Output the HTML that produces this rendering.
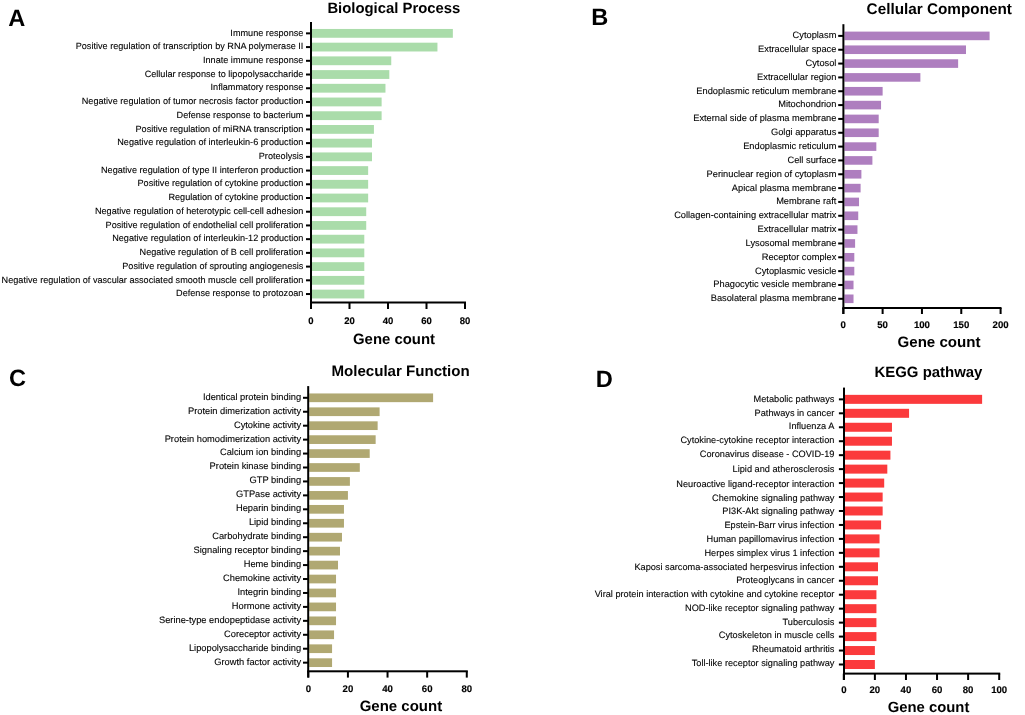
<!DOCTYPE html>
<html><head><meta charset="utf-8"><title>GO and KEGG enrichment</title>
<style>
html,body{margin:0;padding:0;background:#fff;}
body{width:1025px;height:715px;overflow:hidden;}
svg{display:block;font-family:"Liberation Sans", sans-serif;will-change:transform;text-rendering:geometricPrecision;}
</style></head>
<body>
<svg width="1025" height="715" viewBox="0 0 1025 715">
<rect width="1025" height="715" fill="#fff"/>
<g>
<text x="8.2" y="26.4" font-size="23.6" font-weight="bold" fill="#000">A</text>
<text x="327.4" y="13.2" font-size="14.87" font-weight="bold" fill="#000">Biological Process</text>
<rect x="312.00" y="28.96" width="140.85" height="8.80" fill="#aadcaa"/>
<rect x="306.00" y="32.36" width="5.00" height="2" fill="#000"/>
<text x="303.4" y="35.56" font-size="9.15" text-anchor="end" fill="#000" stroke="#000" stroke-width="0.1">Immune response</text>
<rect x="312.00" y="42.68" width="125.45" height="8.80" fill="#aadcaa"/>
<rect x="306.00" y="46.08" width="5.00" height="2" fill="#000"/>
<text x="303.4" y="49.28" font-size="9.15" text-anchor="end" fill="#000" stroke="#000" stroke-width="0.1">Positive regulation of transcription by RNA polymerase II</text>
<rect x="312.00" y="56.40" width="79.25" height="8.80" fill="#aadcaa"/>
<rect x="306.00" y="59.80" width="5.00" height="2" fill="#000"/>
<text x="303.4" y="63.00" font-size="9.15" text-anchor="end" fill="#000" stroke="#000" stroke-width="0.1">Innate immune response</text>
<rect x="312.00" y="70.12" width="77.32" height="8.80" fill="#aadcaa"/>
<rect x="306.00" y="73.52" width="5.00" height="2" fill="#000"/>
<text x="303.4" y="76.72" font-size="9.15" text-anchor="end" fill="#000" stroke="#000" stroke-width="0.1">Cellular response to lipopolysaccharide</text>
<rect x="312.00" y="83.84" width="73.47" height="8.80" fill="#aadcaa"/>
<rect x="306.00" y="87.24" width="5.00" height="2" fill="#000"/>
<text x="303.4" y="90.44" font-size="9.15" text-anchor="end" fill="#000" stroke="#000" stroke-width="0.1">Inflammatory response</text>
<rect x="312.00" y="97.56" width="69.62" height="8.80" fill="#aadcaa"/>
<rect x="306.00" y="100.96" width="5.00" height="2" fill="#000"/>
<text x="303.4" y="104.16" font-size="9.15" text-anchor="end" fill="#000" stroke="#000" stroke-width="0.1">Negative regulation of tumor necrosis factor production</text>
<rect x="312.00" y="111.28" width="69.62" height="8.80" fill="#aadcaa"/>
<rect x="306.00" y="114.68" width="5.00" height="2" fill="#000"/>
<text x="303.4" y="117.88" font-size="9.15" text-anchor="end" fill="#000" stroke="#000" stroke-width="0.1">Defense response to bacterium</text>
<rect x="312.00" y="125.00" width="61.92" height="8.80" fill="#aadcaa"/>
<rect x="306.00" y="128.40" width="5.00" height="2" fill="#000"/>
<text x="303.4" y="131.60" font-size="9.15" text-anchor="end" fill="#000" stroke="#000" stroke-width="0.1">Positive regulation of miRNA transcription</text>
<rect x="312.00" y="138.72" width="60.00" height="8.80" fill="#aadcaa"/>
<rect x="306.00" y="142.12" width="5.00" height="2" fill="#000"/>
<text x="303.4" y="145.32" font-size="9.15" text-anchor="end" fill="#000" stroke="#000" stroke-width="0.1">Negative regulation of interleukin-6 production</text>
<rect x="312.00" y="152.44" width="60.00" height="8.80" fill="#aadcaa"/>
<rect x="306.00" y="155.84" width="5.00" height="2" fill="#000"/>
<text x="303.4" y="159.04" font-size="9.15" text-anchor="end" fill="#000" stroke="#000" stroke-width="0.1">Proteolysis</text>
<rect x="312.00" y="166.16" width="56.15" height="8.80" fill="#aadcaa"/>
<rect x="306.00" y="169.56" width="5.00" height="2" fill="#000"/>
<text x="303.4" y="172.76" font-size="9.15" text-anchor="end" fill="#000" stroke="#000" stroke-width="0.1">Negative regulation of type II interferon production</text>
<rect x="312.00" y="179.88" width="56.15" height="8.80" fill="#aadcaa"/>
<rect x="306.00" y="183.28" width="5.00" height="2" fill="#000"/>
<text x="303.4" y="186.48" font-size="9.15" text-anchor="end" fill="#000" stroke="#000" stroke-width="0.1">Positive regulation of cytokine production</text>
<rect x="312.00" y="193.60" width="56.15" height="8.80" fill="#aadcaa"/>
<rect x="306.00" y="197.00" width="5.00" height="2" fill="#000"/>
<text x="303.4" y="200.20" font-size="9.15" text-anchor="end" fill="#000" stroke="#000" stroke-width="0.1">Regulation of cytokine production</text>
<rect x="312.00" y="207.32" width="54.22" height="8.80" fill="#aadcaa"/>
<rect x="306.00" y="210.72" width="5.00" height="2" fill="#000"/>
<text x="303.4" y="213.92" font-size="9.15" text-anchor="end" fill="#000" stroke="#000" stroke-width="0.1">Negative regulation of heterotypic cell-cell adhesion</text>
<rect x="312.00" y="221.04" width="54.22" height="8.80" fill="#aadcaa"/>
<rect x="306.00" y="224.44" width="5.00" height="2" fill="#000"/>
<text x="303.4" y="227.64" font-size="9.15" text-anchor="end" fill="#000" stroke="#000" stroke-width="0.1">Positive regulation of endothelial cell proliferation</text>
<rect x="312.00" y="234.76" width="52.30" height="8.80" fill="#aadcaa"/>
<rect x="306.00" y="238.16" width="5.00" height="2" fill="#000"/>
<text x="303.4" y="241.36" font-size="9.15" text-anchor="end" fill="#000" stroke="#000" stroke-width="0.1">Negative regulation of interleukin-12 production</text>
<rect x="312.00" y="248.48" width="52.30" height="8.80" fill="#aadcaa"/>
<rect x="306.00" y="251.88" width="5.00" height="2" fill="#000"/>
<text x="303.4" y="255.08" font-size="9.15" text-anchor="end" fill="#000" stroke="#000" stroke-width="0.1">Negative regulation of B cell proliferation</text>
<rect x="312.00" y="262.20" width="52.30" height="8.80" fill="#aadcaa"/>
<rect x="306.00" y="265.60" width="5.00" height="2" fill="#000"/>
<text x="303.4" y="268.80" font-size="9.15" text-anchor="end" fill="#000" stroke="#000" stroke-width="0.1">Positive regulation of sprouting angiogenesis</text>
<rect x="312.00" y="275.92" width="52.30" height="8.80" fill="#aadcaa"/>
<rect x="306.00" y="279.32" width="5.00" height="2" fill="#000"/>
<text x="303.4" y="282.52" font-size="9.15" text-anchor="end" fill="#000" stroke="#000" stroke-width="0.1">Negative regulation of vascular associated smooth muscle cell proliferation</text>
<rect x="312.00" y="289.64" width="52.30" height="8.80" fill="#aadcaa"/>
<rect x="306.00" y="293.04" width="5.00" height="2" fill="#000"/>
<text x="303.4" y="296.24" font-size="9.15" text-anchor="end" fill="#000" stroke="#000" stroke-width="0.1">Defense response to protozoan</text>
<rect x="310.00" y="22.00" width="2.0" height="287.00" fill="#000"/>
<rect x="310.00" y="301.50" width="156.00" height="2.0" fill="#000"/>
<rect x="310.00" y="302.50" width="2" height="6.50" fill="#000"/>
<text x="311.00" y="324.3" font-size="9.5" font-weight="bold" text-anchor="middle" fill="#000" stroke="#000" stroke-width="0.15">0</text>
<rect x="348.50" y="302.50" width="2" height="6.50" fill="#000"/>
<text x="349.50" y="324.3" font-size="9.5" font-weight="bold" text-anchor="middle" fill="#000" stroke="#000" stroke-width="0.15">20</text>
<rect x="387.00" y="302.50" width="2" height="6.50" fill="#000"/>
<text x="388.00" y="324.3" font-size="9.5" font-weight="bold" text-anchor="middle" fill="#000" stroke="#000" stroke-width="0.15">40</text>
<rect x="425.50" y="302.50" width="2" height="6.50" fill="#000"/>
<text x="426.50" y="324.3" font-size="9.5" font-weight="bold" text-anchor="middle" fill="#000" stroke="#000" stroke-width="0.15">60</text>
<rect x="464.00" y="302.50" width="2" height="6.50" fill="#000"/>
<text x="465.00" y="324.3" font-size="9.5" font-weight="bold" text-anchor="middle" fill="#000" stroke="#000" stroke-width="0.15">80</text>
<text x="353.0" y="343.6" font-size="14.92" font-weight="bold" fill="#000">Gene count</text>
</g>
<g>
<text x="591.2" y="25.4" font-size="23.6" font-weight="bold" fill="#000">B</text>
<text x="866.6" y="14.2" font-size="15.3" font-weight="bold" fill="#000">Cellular Component</text>
<rect x="844.40" y="31.60" width="145.19" height="8.60" fill="#ae7ebf"/>
<rect x="838.20" y="34.90" width="5.20" height="2" fill="#000"/>
<text x="836.4" y="38.30" font-size="9.28" text-anchor="end" fill="#000" stroke="#000" stroke-width="0.1">Cytoplasm</text>
<rect x="844.40" y="45.44" width="121.59" height="8.60" fill="#ae7ebf"/>
<rect x="838.20" y="48.74" width="5.20" height="2" fill="#000"/>
<text x="836.4" y="52.14" font-size="9.28" text-anchor="end" fill="#000" stroke="#000" stroke-width="0.1">Extracellular space</text>
<rect x="844.40" y="59.27" width="113.73" height="8.60" fill="#ae7ebf"/>
<rect x="838.20" y="62.57" width="5.20" height="2" fill="#000"/>
<text x="836.4" y="65.97" font-size="9.28" text-anchor="end" fill="#000" stroke="#000" stroke-width="0.1">Cytosol</text>
<rect x="844.40" y="73.11" width="75.98" height="8.60" fill="#ae7ebf"/>
<rect x="838.20" y="76.41" width="5.20" height="2" fill="#000"/>
<text x="836.4" y="79.81" font-size="9.28" text-anchor="end" fill="#000" stroke="#000" stroke-width="0.1">Extracellular region</text>
<rect x="844.40" y="86.95" width="38.23" height="8.60" fill="#ae7ebf"/>
<rect x="838.20" y="90.25" width="5.20" height="2" fill="#000"/>
<text x="836.4" y="93.65" font-size="9.28" text-anchor="end" fill="#000" stroke="#000" stroke-width="0.1">Endoplasmic reticulum membrane</text>
<rect x="844.40" y="100.79" width="36.65" height="8.60" fill="#ae7ebf"/>
<rect x="838.20" y="104.09" width="5.20" height="2" fill="#000"/>
<text x="836.4" y="107.49" font-size="9.28" text-anchor="end" fill="#000" stroke="#000" stroke-width="0.1">Mitochondrion</text>
<rect x="844.40" y="114.62" width="34.29" height="8.60" fill="#ae7ebf"/>
<rect x="838.20" y="117.92" width="5.20" height="2" fill="#000"/>
<text x="836.4" y="121.32" font-size="9.28" text-anchor="end" fill="#000" stroke="#000" stroke-width="0.1">External side of plasma membrane</text>
<rect x="844.40" y="128.46" width="34.29" height="8.60" fill="#ae7ebf"/>
<rect x="838.20" y="131.76" width="5.20" height="2" fill="#000"/>
<text x="836.4" y="135.16" font-size="9.28" text-anchor="end" fill="#000" stroke="#000" stroke-width="0.1">Golgi apparatus</text>
<rect x="844.40" y="142.30" width="31.93" height="8.60" fill="#ae7ebf"/>
<rect x="838.20" y="145.60" width="5.20" height="2" fill="#000"/>
<text x="836.4" y="149.00" font-size="9.28" text-anchor="end" fill="#000" stroke="#000" stroke-width="0.1">Endoplasmic reticulum</text>
<rect x="844.40" y="156.13" width="28.00" height="8.60" fill="#ae7ebf"/>
<rect x="838.20" y="159.43" width="5.20" height="2" fill="#000"/>
<text x="836.4" y="162.83" font-size="9.28" text-anchor="end" fill="#000" stroke="#000" stroke-width="0.1">Cell surface</text>
<rect x="844.40" y="169.97" width="16.99" height="8.60" fill="#ae7ebf"/>
<rect x="838.20" y="173.27" width="5.20" height="2" fill="#000"/>
<text x="836.4" y="176.67" font-size="9.28" text-anchor="end" fill="#000" stroke="#000" stroke-width="0.1">Perinuclear region of cytoplasm</text>
<rect x="844.40" y="183.81" width="16.20" height="8.60" fill="#ae7ebf"/>
<rect x="838.20" y="187.11" width="5.20" height="2" fill="#000"/>
<text x="836.4" y="190.51" font-size="9.28" text-anchor="end" fill="#000" stroke="#000" stroke-width="0.1">Apical plasma membrane</text>
<rect x="844.40" y="197.64" width="14.63" height="8.60" fill="#ae7ebf"/>
<rect x="838.20" y="200.94" width="5.20" height="2" fill="#000"/>
<text x="836.4" y="204.34" font-size="9.28" text-anchor="end" fill="#000" stroke="#000" stroke-width="0.1">Membrane raft</text>
<rect x="844.40" y="211.48" width="13.84" height="8.60" fill="#ae7ebf"/>
<rect x="838.20" y="214.78" width="5.20" height="2" fill="#000"/>
<text x="836.4" y="218.18" font-size="9.28" text-anchor="end" fill="#000" stroke="#000" stroke-width="0.1">Collagen-containing extracellular matrix</text>
<rect x="844.40" y="225.32" width="13.06" height="8.60" fill="#ae7ebf"/>
<rect x="838.20" y="228.62" width="5.20" height="2" fill="#000"/>
<text x="836.4" y="232.02" font-size="9.28" text-anchor="end" fill="#000" stroke="#000" stroke-width="0.1">Extracellular matrix</text>
<rect x="844.40" y="239.16" width="10.70" height="8.60" fill="#ae7ebf"/>
<rect x="838.20" y="242.46" width="5.20" height="2" fill="#000"/>
<text x="836.4" y="245.86" font-size="9.28" text-anchor="end" fill="#000" stroke="#000" stroke-width="0.1">Lysosomal membrane</text>
<rect x="844.40" y="252.99" width="9.91" height="8.60" fill="#ae7ebf"/>
<rect x="838.20" y="256.29" width="5.20" height="2" fill="#000"/>
<text x="836.4" y="259.69" font-size="9.28" text-anchor="end" fill="#000" stroke="#000" stroke-width="0.1">Receptor complex</text>
<rect x="844.40" y="266.83" width="9.91" height="8.60" fill="#ae7ebf"/>
<rect x="838.20" y="270.13" width="5.20" height="2" fill="#000"/>
<text x="836.4" y="273.53" font-size="9.28" text-anchor="end" fill="#000" stroke="#000" stroke-width="0.1">Cytoplasmic vesicle</text>
<rect x="844.40" y="280.67" width="9.12" height="8.60" fill="#ae7ebf"/>
<rect x="838.20" y="283.97" width="5.20" height="2" fill="#000"/>
<text x="836.4" y="287.37" font-size="9.28" text-anchor="end" fill="#000" stroke="#000" stroke-width="0.1">Phagocytic vesicle membrane</text>
<rect x="844.40" y="294.50" width="9.12" height="8.60" fill="#ae7ebf"/>
<rect x="838.20" y="297.80" width="5.20" height="2" fill="#000"/>
<text x="836.4" y="301.20" font-size="9.28" text-anchor="end" fill="#000" stroke="#000" stroke-width="0.1">Basolateral plasma membrane</text>
<rect x="842.40" y="24.20" width="2.0" height="289.80" fill="#000"/>
<rect x="842.40" y="307.00" width="159.10" height="2.0" fill="#000"/>
<rect x="842.30" y="308.00" width="2" height="6.00" fill="#000"/>
<text x="843.30" y="327.8" font-size="9.65" font-weight="bold" text-anchor="middle" fill="#000" stroke="#000" stroke-width="0.15">0</text>
<rect x="881.62" y="308.00" width="2" height="6.00" fill="#000"/>
<text x="882.62" y="327.8" font-size="9.65" font-weight="bold" text-anchor="middle" fill="#000" stroke="#000" stroke-width="0.15">50</text>
<rect x="920.95" y="308.00" width="2" height="6.00" fill="#000"/>
<text x="921.95" y="327.8" font-size="9.65" font-weight="bold" text-anchor="middle" fill="#000" stroke="#000" stroke-width="0.15">100</text>
<rect x="960.27" y="308.00" width="2" height="6.00" fill="#000"/>
<text x="961.27" y="327.8" font-size="9.65" font-weight="bold" text-anchor="middle" fill="#000" stroke="#000" stroke-width="0.15">150</text>
<rect x="999.60" y="308.00" width="2" height="6.00" fill="#000"/>
<text x="1000.60" y="327.8" font-size="9.65" font-weight="bold" text-anchor="middle" fill="#000" stroke="#000" stroke-width="0.15">200</text>
<text x="897.5" y="346.9" font-size="15.1" font-weight="bold" fill="#000">Gene count</text>
</g>
<g>
<text x="9.0" y="386.2" font-size="23.6" font-weight="bold" fill="#000">C</text>
<text x="331.4" y="376.0" font-size="15.1" font-weight="bold" fill="#000">Molecular Function</text>
<rect x="309.20" y="393.45" width="123.90" height="8.70" fill="#b0a872"/>
<rect x="303.00" y="396.80" width="5.20" height="2" fill="#000"/>
<text x="301.1" y="399.70" font-size="9.3" text-anchor="end" fill="#000" stroke="#000" stroke-width="0.1">Identical protein binding</text>
<rect x="309.20" y="407.39" width="70.42" height="8.70" fill="#b0a872"/>
<rect x="303.00" y="410.74" width="5.20" height="2" fill="#000"/>
<text x="301.1" y="413.64" font-size="9.3" text-anchor="end" fill="#000" stroke="#000" stroke-width="0.1">Protein dimerization activity</text>
<rect x="309.20" y="421.33" width="68.44" height="8.70" fill="#b0a872"/>
<rect x="303.00" y="424.68" width="5.20" height="2" fill="#000"/>
<text x="301.1" y="427.58" font-size="9.3" text-anchor="end" fill="#000" stroke="#000" stroke-width="0.1">Cytokine activity</text>
<rect x="309.20" y="435.27" width="66.45" height="8.70" fill="#b0a872"/>
<rect x="303.00" y="438.62" width="5.20" height="2" fill="#000"/>
<text x="301.1" y="441.52" font-size="9.3" text-anchor="end" fill="#000" stroke="#000" stroke-width="0.1">Protein homodimerization activity</text>
<rect x="309.20" y="449.21" width="60.51" height="8.70" fill="#b0a872"/>
<rect x="303.00" y="452.56" width="5.20" height="2" fill="#000"/>
<text x="301.1" y="455.46" font-size="9.3" text-anchor="end" fill="#000" stroke="#000" stroke-width="0.1">Calcium ion binding</text>
<rect x="309.20" y="463.15" width="50.61" height="8.70" fill="#b0a872"/>
<rect x="303.00" y="466.50" width="5.20" height="2" fill="#000"/>
<text x="301.1" y="469.40" font-size="9.3" text-anchor="end" fill="#000" stroke="#000" stroke-width="0.1">Protein kinase binding</text>
<rect x="309.20" y="477.09" width="40.70" height="8.70" fill="#b0a872"/>
<rect x="303.00" y="480.44" width="5.20" height="2" fill="#000"/>
<text x="301.1" y="483.34" font-size="9.3" text-anchor="end" fill="#000" stroke="#000" stroke-width="0.1">GTP binding</text>
<rect x="309.20" y="491.03" width="38.72" height="8.70" fill="#b0a872"/>
<rect x="303.00" y="494.38" width="5.20" height="2" fill="#000"/>
<text x="301.1" y="497.28" font-size="9.3" text-anchor="end" fill="#000" stroke="#000" stroke-width="0.1">GTPase activity</text>
<rect x="309.20" y="504.97" width="34.76" height="8.70" fill="#b0a872"/>
<rect x="303.00" y="508.32" width="5.20" height="2" fill="#000"/>
<text x="301.1" y="511.22" font-size="9.3" text-anchor="end" fill="#000" stroke="#000" stroke-width="0.1">Heparin binding</text>
<rect x="309.20" y="518.91" width="34.76" height="8.70" fill="#b0a872"/>
<rect x="303.00" y="522.26" width="5.20" height="2" fill="#000"/>
<text x="301.1" y="525.16" font-size="9.3" text-anchor="end" fill="#000" stroke="#000" stroke-width="0.1">Lipid binding</text>
<rect x="309.20" y="532.85" width="32.78" height="8.70" fill="#b0a872"/>
<rect x="303.00" y="536.20" width="5.20" height="2" fill="#000"/>
<text x="301.1" y="539.10" font-size="9.3" text-anchor="end" fill="#000" stroke="#000" stroke-width="0.1">Carbohydrate binding</text>
<rect x="309.20" y="546.79" width="30.80" height="8.70" fill="#b0a872"/>
<rect x="303.00" y="550.14" width="5.20" height="2" fill="#000"/>
<text x="301.1" y="553.04" font-size="9.3" text-anchor="end" fill="#000" stroke="#000" stroke-width="0.1">Signaling receptor binding</text>
<rect x="309.20" y="560.73" width="28.81" height="8.70" fill="#b0a872"/>
<rect x="303.00" y="564.08" width="5.20" height="2" fill="#000"/>
<text x="301.1" y="566.98" font-size="9.3" text-anchor="end" fill="#000" stroke="#000" stroke-width="0.1">Heme binding</text>
<rect x="309.20" y="574.67" width="26.83" height="8.70" fill="#b0a872"/>
<rect x="303.00" y="578.02" width="5.20" height="2" fill="#000"/>
<text x="301.1" y="580.92" font-size="9.3" text-anchor="end" fill="#000" stroke="#000" stroke-width="0.1">Chemokine activity</text>
<rect x="309.20" y="588.61" width="26.83" height="8.70" fill="#b0a872"/>
<rect x="303.00" y="591.96" width="5.20" height="2" fill="#000"/>
<text x="301.1" y="594.86" font-size="9.3" text-anchor="end" fill="#000" stroke="#000" stroke-width="0.1">Integrin binding</text>
<rect x="309.20" y="602.55" width="26.83" height="8.70" fill="#b0a872"/>
<rect x="303.00" y="605.90" width="5.20" height="2" fill="#000"/>
<text x="301.1" y="608.80" font-size="9.3" text-anchor="end" fill="#000" stroke="#000" stroke-width="0.1">Hormone activity</text>
<rect x="309.20" y="616.49" width="26.83" height="8.70" fill="#b0a872"/>
<rect x="303.00" y="619.84" width="5.20" height="2" fill="#000"/>
<text x="301.1" y="622.74" font-size="9.3" text-anchor="end" fill="#000" stroke="#000" stroke-width="0.1">Serine-type endopeptidase activity</text>
<rect x="309.20" y="630.43" width="24.85" height="8.70" fill="#b0a872"/>
<rect x="303.00" y="633.78" width="5.20" height="2" fill="#000"/>
<text x="301.1" y="636.68" font-size="9.3" text-anchor="end" fill="#000" stroke="#000" stroke-width="0.1">Coreceptor activity</text>
<rect x="309.20" y="644.37" width="22.87" height="8.70" fill="#b0a872"/>
<rect x="303.00" y="647.72" width="5.20" height="2" fill="#000"/>
<text x="301.1" y="650.62" font-size="9.3" text-anchor="end" fill="#000" stroke="#000" stroke-width="0.1">Lipopolysaccharide binding</text>
<rect x="309.20" y="658.31" width="22.87" height="8.70" fill="#b0a872"/>
<rect x="303.00" y="661.66" width="5.20" height="2" fill="#000"/>
<text x="301.1" y="664.56" font-size="9.3" text-anchor="end" fill="#000" stroke="#000" stroke-width="0.1">Growth factor activity</text>
<rect x="307.20" y="386.10" width="2.0" height="291.40" fill="#000"/>
<rect x="307.20" y="670.30" width="160.60" height="2.0" fill="#000"/>
<rect x="307.30" y="671.30" width="2" height="6.30" fill="#000"/>
<text x="308.30" y="692.0" font-size="9.6" font-weight="bold" text-anchor="middle" fill="#000" stroke="#000" stroke-width="0.15">0</text>
<rect x="346.92" y="671.30" width="2" height="6.30" fill="#000"/>
<text x="347.92" y="692.0" font-size="9.6" font-weight="bold" text-anchor="middle" fill="#000" stroke="#000" stroke-width="0.15">20</text>
<rect x="386.54" y="671.30" width="2" height="6.30" fill="#000"/>
<text x="387.54" y="692.0" font-size="9.6" font-weight="bold" text-anchor="middle" fill="#000" stroke="#000" stroke-width="0.15">40</text>
<rect x="426.16" y="671.30" width="2" height="6.30" fill="#000"/>
<text x="427.16" y="692.0" font-size="9.6" font-weight="bold" text-anchor="middle" fill="#000" stroke="#000" stroke-width="0.15">60</text>
<rect x="465.78" y="671.30" width="2" height="6.30" fill="#000"/>
<text x="466.78" y="692.0" font-size="9.6" font-weight="bold" text-anchor="middle" fill="#000" stroke="#000" stroke-width="0.15">80</text>
<text x="359.7" y="711.0" font-size="15.0" font-weight="bold" fill="#000">Gene count</text>
</g>
<g>
<text x="595.8" y="387.4" font-size="23.6" font-weight="bold" fill="#000">D</text>
<text x="874.5" y="377.4" font-size="14.95" font-weight="bold" fill="#000">KEGG pathway</text>
<rect x="845.00" y="394.85" width="137.11" height="9.00" fill="#fb3a3c"/>
<rect x="838.90" y="398.35" width="5.10" height="2" fill="#000"/>
<text x="834.4" y="401.50" font-size="9.21" text-anchor="end" fill="#000" stroke="#000" stroke-width="0.1">Metabolic pathways</text>
<rect x="845.00" y="408.81" width="64.07" height="9.00" fill="#fb3a3c"/>
<rect x="838.90" y="412.31" width="5.10" height="2" fill="#000"/>
<text x="834.4" y="415.60" font-size="9.21" text-anchor="end" fill="#000" stroke="#000" stroke-width="0.1">Pathways in cancer</text>
<rect x="845.00" y="422.76" width="46.97" height="9.00" fill="#fb3a3c"/>
<rect x="838.90" y="426.26" width="5.10" height="2" fill="#000"/>
<text x="834.4" y="429.10" font-size="9.21" text-anchor="end" fill="#000" stroke="#000" stroke-width="0.1">Influenza A</text>
<rect x="845.00" y="436.72" width="46.97" height="9.00" fill="#fb3a3c"/>
<rect x="838.90" y="440.22" width="5.10" height="2" fill="#000"/>
<text x="834.4" y="442.90" font-size="9.21" text-anchor="end" fill="#000" stroke="#000" stroke-width="0.1">Cytokine-cytokine receptor interaction</text>
<rect x="845.00" y="450.67" width="45.42" height="9.00" fill="#fb3a3c"/>
<rect x="838.90" y="454.17" width="5.10" height="2" fill="#000"/>
<text x="834.4" y="456.60" font-size="9.21" text-anchor="end" fill="#000" stroke="#000" stroke-width="0.1">Coronavirus disease - COVID-19</text>
<rect x="845.00" y="464.62" width="42.31" height="9.00" fill="#fb3a3c"/>
<rect x="838.90" y="468.12" width="5.10" height="2" fill="#000"/>
<text x="834.4" y="471.50" font-size="9.21" text-anchor="end" fill="#000" stroke="#000" stroke-width="0.1">Lipid and atherosclerosis</text>
<rect x="845.00" y="478.58" width="39.20" height="9.00" fill="#fb3a3c"/>
<rect x="838.90" y="482.08" width="5.10" height="2" fill="#000"/>
<text x="834.4" y="486.80" font-size="9.21" text-anchor="end" fill="#000" stroke="#000" stroke-width="0.1">Neuroactive ligand-receptor interaction</text>
<rect x="845.00" y="492.54" width="37.65" height="9.00" fill="#fb3a3c"/>
<rect x="838.90" y="496.04" width="5.10" height="2" fill="#000"/>
<text x="834.4" y="500.50" font-size="9.21" text-anchor="end" fill="#000" stroke="#000" stroke-width="0.1">Chemokine signaling pathway</text>
<rect x="845.00" y="506.49" width="37.65" height="9.00" fill="#fb3a3c"/>
<rect x="838.90" y="509.99" width="5.10" height="2" fill="#000"/>
<text x="834.4" y="514.20" font-size="9.21" text-anchor="end" fill="#000" stroke="#000" stroke-width="0.1">PI3K-Akt signaling pathway</text>
<rect x="845.00" y="520.45" width="36.10" height="9.00" fill="#fb3a3c"/>
<rect x="838.90" y="523.95" width="5.10" height="2" fill="#000"/>
<text x="834.4" y="528.20" font-size="9.21" text-anchor="end" fill="#000" stroke="#000" stroke-width="0.1">Epstein-Barr virus infection</text>
<rect x="845.00" y="534.40" width="34.54" height="9.00" fill="#fb3a3c"/>
<rect x="838.90" y="537.90" width="5.10" height="2" fill="#000"/>
<text x="834.4" y="541.90" font-size="9.21" text-anchor="end" fill="#000" stroke="#000" stroke-width="0.1">Human papillomavirus infection</text>
<rect x="845.00" y="548.36" width="34.54" height="9.00" fill="#fb3a3c"/>
<rect x="838.90" y="551.86" width="5.10" height="2" fill="#000"/>
<text x="834.4" y="555.60" font-size="9.21" text-anchor="end" fill="#000" stroke="#000" stroke-width="0.1">Herpes simplex virus 1 infection</text>
<rect x="845.00" y="562.31" width="32.99" height="9.00" fill="#fb3a3c"/>
<rect x="838.90" y="565.81" width="5.10" height="2" fill="#000"/>
<text x="834.4" y="569.60" font-size="9.21" text-anchor="end" fill="#000" stroke="#000" stroke-width="0.1">Kaposi sarcoma-associated herpesvirus infection</text>
<rect x="845.00" y="576.26" width="32.99" height="9.00" fill="#fb3a3c"/>
<rect x="838.90" y="579.76" width="5.10" height="2" fill="#000"/>
<text x="834.4" y="582.80" font-size="9.21" text-anchor="end" fill="#000" stroke="#000" stroke-width="0.1">Proteoglycans in cancer</text>
<rect x="845.00" y="590.22" width="31.43" height="9.00" fill="#fb3a3c"/>
<rect x="838.90" y="593.72" width="5.10" height="2" fill="#000"/>
<text x="834.4" y="596.90" font-size="9.21" text-anchor="end" fill="#000" stroke="#000" stroke-width="0.1">Viral protein interaction with cytokine and cytokine receptor</text>
<rect x="845.00" y="604.17" width="31.43" height="9.00" fill="#fb3a3c"/>
<rect x="838.90" y="607.67" width="5.10" height="2" fill="#000"/>
<text x="834.4" y="610.80" font-size="9.21" text-anchor="end" fill="#000" stroke="#000" stroke-width="0.1">NOD-like receptor signaling pathway</text>
<rect x="845.00" y="618.13" width="31.43" height="9.00" fill="#fb3a3c"/>
<rect x="838.90" y="621.63" width="5.10" height="2" fill="#000"/>
<text x="834.4" y="624.50" font-size="9.21" text-anchor="end" fill="#000" stroke="#000" stroke-width="0.1">Tuberculosis</text>
<rect x="845.00" y="632.09" width="31.43" height="9.00" fill="#fb3a3c"/>
<rect x="838.90" y="635.59" width="5.10" height="2" fill="#000"/>
<text x="834.4" y="638.30" font-size="9.21" text-anchor="end" fill="#000" stroke="#000" stroke-width="0.1">Cytoskeleton in muscle cells</text>
<rect x="845.00" y="646.04" width="29.88" height="9.00" fill="#fb3a3c"/>
<rect x="838.90" y="649.54" width="5.10" height="2" fill="#000"/>
<text x="834.4" y="652.10" font-size="9.21" text-anchor="end" fill="#000" stroke="#000" stroke-width="0.1">Rheumatoid arthritis</text>
<rect x="845.00" y="660.00" width="29.88" height="9.00" fill="#fb3a3c"/>
<rect x="838.90" y="663.50" width="5.10" height="2" fill="#000"/>
<text x="834.4" y="665.60" font-size="9.21" text-anchor="end" fill="#000" stroke="#000" stroke-width="0.1">Toll-like receptor signaling pathway</text>
<rect x="843.00" y="387.60" width="2.0" height="292.40" fill="#000"/>
<rect x="843.00" y="672.60" width="157.20" height="2.0" fill="#000"/>
<rect x="842.80" y="673.60" width="2" height="6.40" fill="#000"/>
<text x="843.80" y="693.0" font-size="9.6" font-weight="bold" text-anchor="middle" fill="#000" stroke="#000" stroke-width="0.15">0</text>
<rect x="873.88" y="673.60" width="2" height="6.40" fill="#000"/>
<text x="874.88" y="693.0" font-size="9.6" font-weight="bold" text-anchor="middle" fill="#000" stroke="#000" stroke-width="0.15">20</text>
<rect x="904.96" y="673.60" width="2" height="6.40" fill="#000"/>
<text x="905.96" y="693.0" font-size="9.6" font-weight="bold" text-anchor="middle" fill="#000" stroke="#000" stroke-width="0.15">40</text>
<rect x="936.04" y="673.60" width="2" height="6.40" fill="#000"/>
<text x="937.04" y="693.0" font-size="9.6" font-weight="bold" text-anchor="middle" fill="#000" stroke="#000" stroke-width="0.15">60</text>
<rect x="967.12" y="673.60" width="2" height="6.40" fill="#000"/>
<text x="968.12" y="693.0" font-size="9.6" font-weight="bold" text-anchor="middle" fill="#000" stroke="#000" stroke-width="0.15">80</text>
<rect x="998.20" y="673.60" width="2" height="6.40" fill="#000"/>
<text x="999.20" y="693.0" font-size="9.6" font-weight="bold" text-anchor="middle" fill="#000" stroke="#000" stroke-width="0.15">100</text>
<text x="887.7" y="711.5" font-size="14.85" font-weight="bold" fill="#000">Gene count</text>
</g>
</svg>
</body></html>
